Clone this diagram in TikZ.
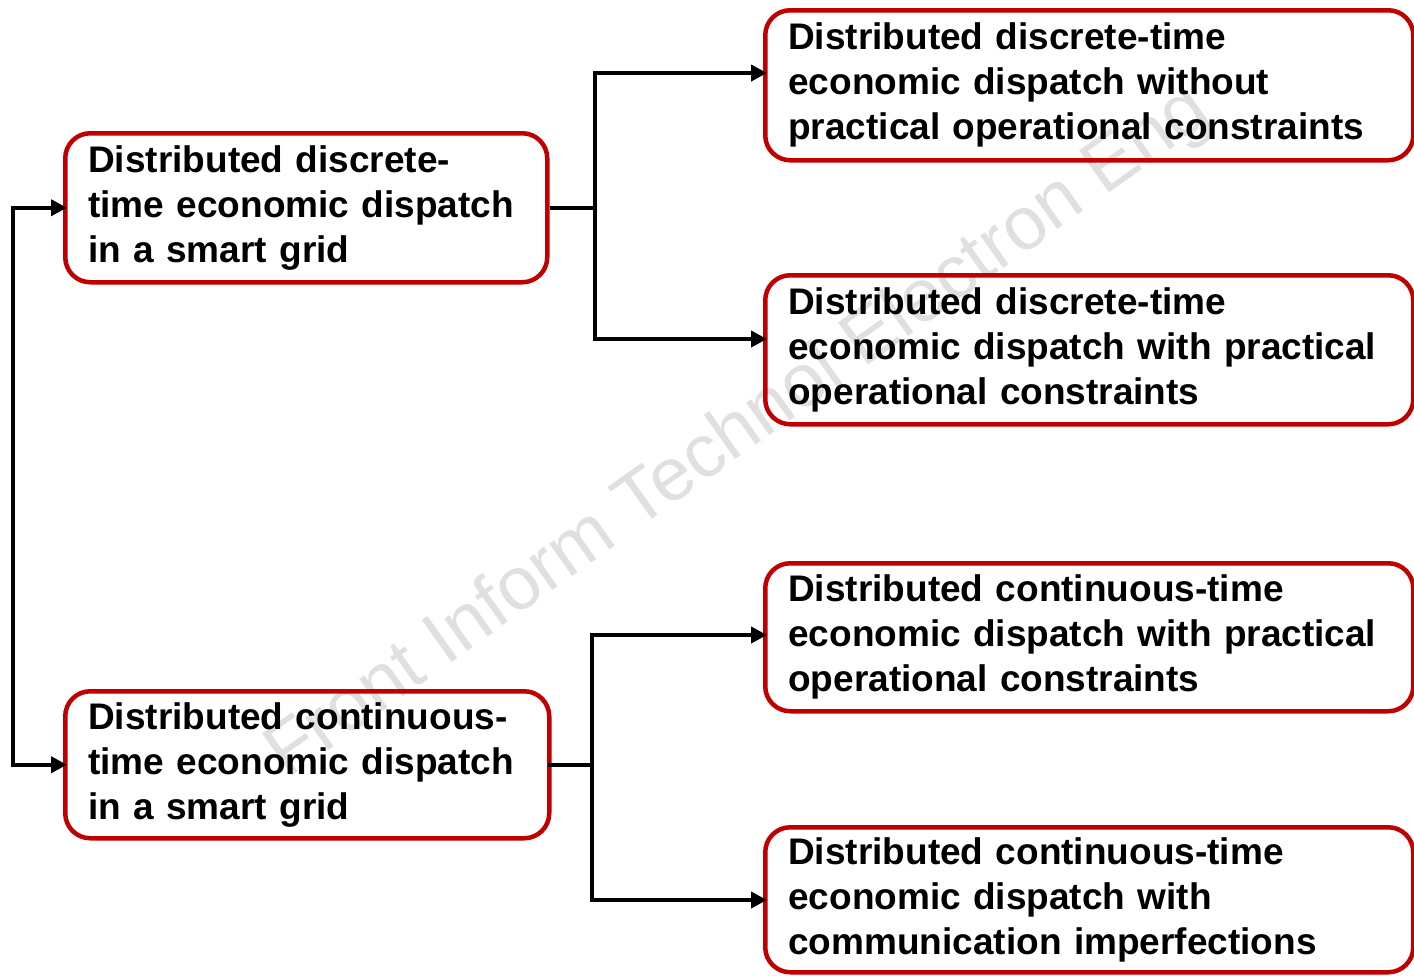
\documentclass[tikz,border=0pt]{standalone}
\usepackage{fontspec}
\setmainfont{Liberation Sans}
\usetikzlibrary{arrows.meta}
\definecolor{boxred}{HTML}{C00000}
\definecolor{wmark}{HTML}{E0E0E0}
\tikzset{
  box/.style={draw=boxred, line width=4.5pt, rounded corners=25pt, anchor=north west,
    inner xsep=23pt, inner ysep=0pt, align=left, font=\bfseries\fontsize{37}{45}\selectfont},
  conn/.style={line width=4.5pt, line join=miter},
  tip2/.style={conn, shorten <=-4pt, shorten >=-4pt,
    {Triangle[length=16pt,width=16pt]}-{Triangle[length=16pt,width=16pt]}},
}
\begin{document}
\begin{tikzpicture}[x=1pt,y=-1pt]
\useasboundingbox (0,0) rectangle (1414,975);
% watermark
\node[rotate=35.5, anchor=base west, inner sep=0pt, text=wmark, font=\fontsize{75}{80}\selectfont] (wm) at (287,780) {Front Inform Technol Electron Eng};
% boxes
\node[box, text width=436pt, minimum height=149pt] (lt) at (63,131) {Distributed discrete-\\time economic dispatch\\in a smart grid};
\node[box, text width=438pt, minimum height=147pt] (lb) at (63,689) {Distributed continuous-\\time economic dispatch\\in a smart grid};
\node[box, text width=602pt, minimum height=150pt] (rt1) at (763,8) {Distributed discrete-time\\economic dispatch without\\practical operational constraints};
\node[box, text width=602pt, minimum height=149pt] (rt2) at (763,273) {Distributed discrete-time\\economic dispatch with practical\\operational constraints};
\node[box, text width=602pt, minimum height=148pt] (rt3) at (763,561) {Distributed continuous-time\\economic dispatch with practical\\operational constraints};
\node[box, text width=602pt, minimum height=145pt] (rt4) at (763,825) {Distributed continuous-time\\economic dispatch with\\communication imperfections};
% junction coordinates
\coordinate (lx) at (13,0);
\coordinate (j1t) at (595,73);
\coordinate (j1b) at (595,339);
\coordinate (j2t) at (592,635);
\coordinate (j2b) at (592,900);
% connectors
\draw[tip2] (lt.west) -- (lt.west -| lx) -- (lb.west -| lx) -- (lb.west);
\draw[conn] (lt.east) -- (lt.east -| j1t);
\draw[tip2] (rt1.west |- j1t) -- (j1t) -- (j1b) -- (rt2.west |- j1b);
\draw[conn] ([xshift=-4pt]lb.east) -- (lb.east -| j2t);
\draw[tip2] (rt3.west |- j2t) -- (j2t) -- (j2b) -- (rt4.west |- j2b);
\end{tikzpicture}
\end{document}
